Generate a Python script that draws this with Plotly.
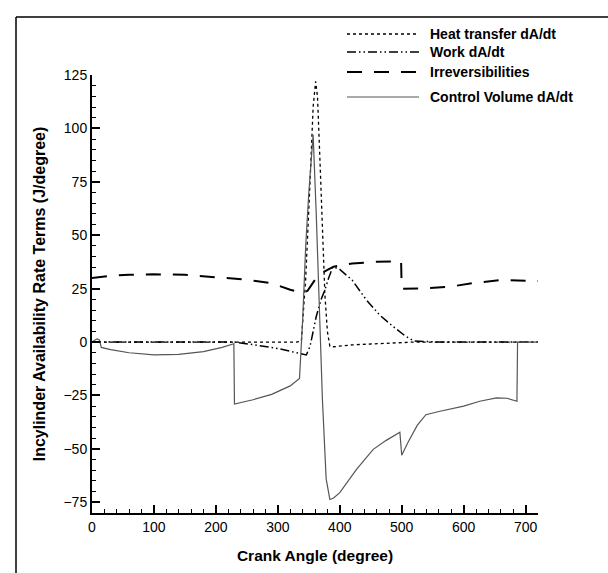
import plotly.graph_objects as go

# ---------------- data ----------------
heat_x = [0, 100, 200, 300, 330, 338, 345, 352, 357, 361, 364, 368, 372, 376, 380, 384,
          390, 400, 420, 450, 480, 520, 600, 720]
heat_y = [0, 0, 0, 0, 0, 0.5, 30, 75, 110, 122, 115, 85, 52, 22, 5, -2,
          -2.2, -1.8, -1.3, -0.9, -0.5, 0, 0, 0]

work_x = [0, 100, 200, 230, 260, 300, 330, 346, 352, 362, 370, 376, 382, 389, 400, 420,
          443, 465, 486, 505, 520, 560, 720]
work_y = [0, 0, 0, 0, -1.2, -3, -5, -6, -2, 12, 20, 24.4, 30, 35.3, 34, 29,
          19.7, 12.5, 7.3, 3, 0.5, 0, 0]

irr_x = [0, 30, 60, 100, 150, 200, 250, 290, 320, 340, 348, 362, 375, 390, 420, 460,
         499, 500, 510, 540, 580, 620, 660, 700, 720]
irr_y = [30, 31, 31.5, 31.7, 31.5, 30.3, 29.2, 27.5, 24.5, 23, 24, 30, 33, 35.3, 36.8, 37.6,
         37.8, 25, 25, 25.2, 26, 27.8, 29, 28.8, 28.6]

cv_x = [0, 8, 12, 15, 30, 60, 100, 140, 180, 210, 229, 230, 260, 290, 320, 335,
        340, 345, 350, 354, 357, 362, 367, 372, 378, 384, 390, 400, 427, 454, 475, 497,
        500, 510, 525, 539, 560, 580, 600, 626, 653, 670, 686, 687, 700, 720]
cv_y = [0, 1.5, 1, -2.5, -3.5, -5, -6, -5.8, -4.5, -2.5, -0.8, -29, -27, -24.5, -20.5, -17,
        10, 45, 70, 88, 97, 60, 20, -27, -64, -73.7, -73, -70.5, -59.6, -50.2, -46, -42.2,
        -53, -47, -39, -34, -32.5, -31.3, -30, -27.7, -26.1, -26.3, -27.7, 0, 0, 0]

series_names = ["Heat transfer dA/dt", "Work dA/dt", "Irreversibilities", "Control Volume dA/dt"]
x_ticks = [0, 100, 200, 300, 400, 500, 600, 700]
y_ticks = [-75, -50, -25, 0, 25, 50, 75, 100, 125]

# ---------------- styling ----------------
W, H = 608, 573
ML, MR, MT, MB = 92, 70, 75, 60
PW, PH = W - ML - MR, H - MT - MB

styles = [
    dict(color="black", width=1.3, dash="dot"),
    dict(color="black", width=1.5, dash="9px,3px,1.5px,3px,1.5px,3px"),
    dict(color="black", width=2, dash="15px,12px"),
    dict(color="#555555", width=1.2, dash="solid"),
]

def px2paper_x(px):
    return (px - ML) / PW

def px2paper_y(py):
    return (H - MB - py) / PH

fig = go.Figure()
for xs, ys, name, st in zip([heat_x, work_x, irr_x, cv_x], [heat_y, work_y, irr_y, cv_y],
                            series_names, styles):
    fig.add_trace(go.Scatter(x=xs, y=ys, mode="lines", name=name, line=st,
                             showlegend=False))

FONT = "Liberation Sans, Arial, Helvetica, sans-serif"

# manual legend (long line samples like the reference)
leg_rows = [34, 52, 72, 97]
shapes = []
annotations = []
for name, st, ry in zip(series_names, styles, leg_rows):
    shapes.append(dict(type="line", xref="paper", yref="paper",
                       x0=px2paper_x(347), x1=px2paper_x(419),
                       y0=px2paper_y(ry), y1=px2paper_y(ry),
                       line=st))
    annotations.append(dict(text="<b>%s</b>" % name, xref="paper", yref="paper",
                            x=px2paper_x(428), y=px2paper_y(ry), xanchor="left",
                            yanchor="middle", showarrow=False,
                            font=dict(family=FONT, size=14, color="black")))

# outer frame lines (top and left)
shapes.append(dict(type="line", xref="paper", yref="paper",
                   x0=px2paper_x(16), x1=px2paper_x(610), y0=px2paper_y(17), y1=px2paper_y(17),
                   line=dict(color="black", width=1.5)))
shapes.append(dict(type="line", xref="paper", yref="paper",
                   x0=px2paper_x(16), x1=px2paper_x(16), y0=px2paper_y(17), y1=px2paper_y(575),
                   line=dict(color="black", width=1.5)))

fig.update_layout(
    width=W, height=H,
    margin=dict(l=ML, r=MR, t=MT, b=MB),
    paper_bgcolor="white", plot_bgcolor="white",
    font=dict(family=FONT, size=14, color="black"),
    shapes=shapes, annotations=annotations,
    showlegend=False,
)
fig.update_xaxes(
    range=[0, 720], tickvals=x_ticks, ticks="inside", ticklen=8, tickwidth=1.5,
    tickcolor="black", showline=True, linecolor="black", linewidth=2,
    showgrid=False, zeroline=False, mirror=False,
    minor=dict(dtick=20, ticks="inside", ticklen=4, tickwidth=1, tickcolor="black", showgrid=False),
    tickfont=dict(family=FONT, size=14, color="black"),
    title=dict(text="<b>Crank Angle (degree)</b>", standoff=16,
               font=dict(family=FONT, size=15.5, color="black")),
)
fig.update_yaxes(
    range=[-80, 125], tickvals=y_ticks, ticks="inside", ticklen=8, tickwidth=1.5,
    tickcolor="black", showline=True, linecolor="black", linewidth=2,
    showgrid=False, zeroline=False, mirror=False,
    minor=dict(dtick=5, ticks="inside", ticklen=4, tickwidth=1, tickcolor="black", showgrid=False),
    tickfont=dict(family=FONT, size=14, color="black"),
    title=dict(text="<b>Incylinder Availability Rate Terms (J/degree)</b>", standoff=14,
               font=dict(family=FONT, size=16, color="black")),
)

fig.write_html("out.html")
